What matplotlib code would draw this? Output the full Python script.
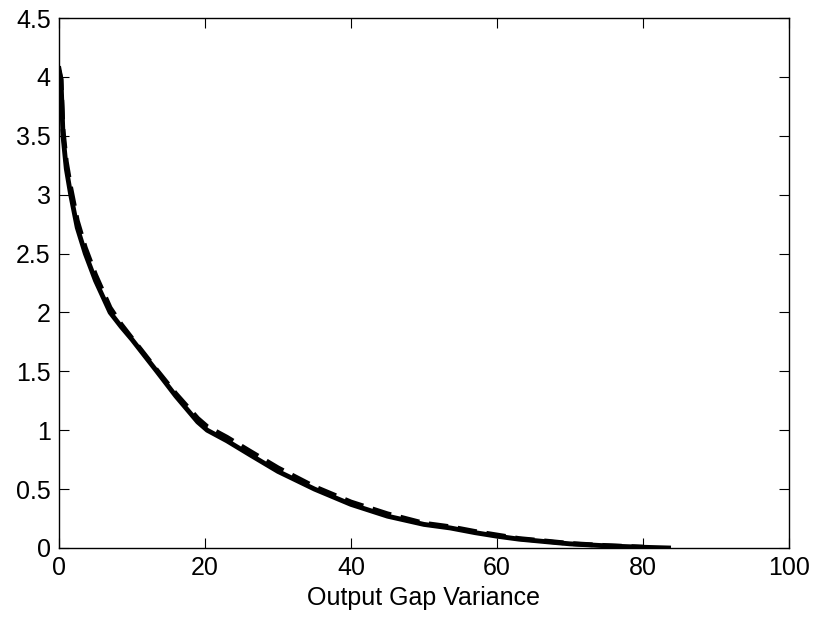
import numpy as np
import matplotlib.pyplot as plt

# frontera de varianzas
gap_solid = [0, 0.27, 0.55, 1.0, 1.6, 2.5, 3.6, 5, 7, 8.5, 10, 13.4, 16, 19, 20.3,
             23, 26.2, 30, 35, 40, 45, 50, 53.6, 57, 60, 63, 67.3, 70, 75, 80, 83.5]
var_solid = [4.07, 3.98, 3.5, 3.22, 3.0, 2.72, 2.5, 2.27, 2.0, 1.88, 1.77, 1.5, 1.29, 1.07, 1.0,
             0.91, 0.79, 0.65, 0.5, 0.37, 0.27, 0.2, 0.17, 0.13, 0.1, 0.075, 0.05, 0.035, 0.018, 0.006, 0.0]

gap_dash = [0, 0.27, 0.55, 1.0, 1.6, 2.5, 3.6, 5, 7, 8.5, 10, 13.4, 16, 19, 20.3,
            23, 26.2, 30, 35, 40, 45, 50, 53.6, 57, 60, 63, 67.3, 70, 75, 80]
var_dash = [4.05, 3.98, 3.55, 3.28, 3.06, 2.78, 2.55, 2.32, 2.04, 1.9, 1.78, 1.51, 1.31, 1.1, 1.03,
            0.94, 0.82, 0.68, 0.52, 0.39, 0.29, 0.21, 0.18, 0.14, 0.11, 0.08, 0.055, 0.038, 0.02, 0.007]

plt.rcParams['font.family'] = ['Liberation Sans', 'DejaVu Sans']

fig = plt.figure(figsize=(8.16, 6.21), dpi=100)
ax = fig.add_axes([0.0723, 0.1176, 0.8946, 0.8534])

ax.plot(gap_dash, var_dash, color='black', linewidth=3.5, linestyle=(0, (4, 2)))
ax.plot(gap_solid, var_solid, color='black', linewidth=3.5)

ax.set_xlim(0, 100)
ax.set_ylim(0, 4.5)
ax.set_xticks(np.arange(0, 101, 20))
ax.set_yticks(np.arange(0, 4.51, 0.5))
ax.set_yticklabels(['0', '0.5', '1', '1.5', '2', '2.5', '3', '3.5', '4', '4.5'])
ax.tick_params(direction='in', top=True, right=True, length=7, width=0.8, labelsize=18)
ax.tick_params(axis='x', pad=6)
ax.tick_params(axis='y', pad=6)
for s in ax.spines.values():
    s.set_linewidth(1)
ax.set_xlabel('Output Gap Variance', fontsize=18, labelpad=4)

fig.savefig('out.png', dpi=100)
